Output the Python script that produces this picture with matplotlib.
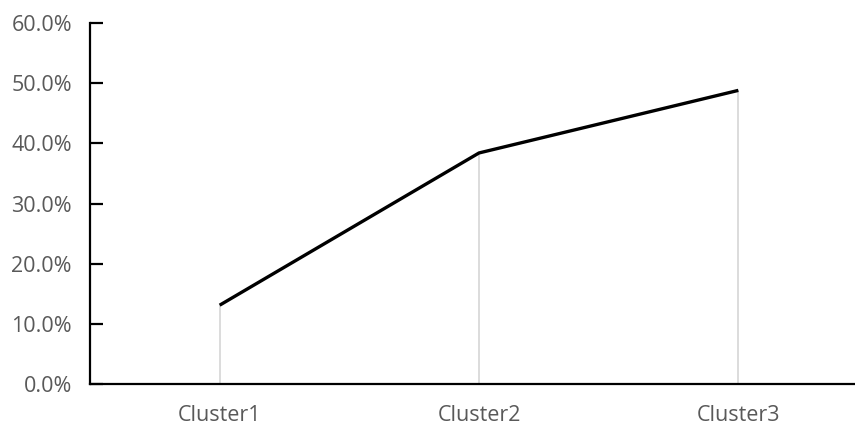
import numpy as np
import matplotlib.pyplot as plt
from matplotlib.ticker import PercentFormatter

categories = ["Cluster1", "Cluster2", "Cluster3"]
values = [0.131, 0.384, 0.488]
y_ticks = [0.0, 0.1, 0.2, 0.3, 0.4, 0.5, 0.6]

plt.rcParams["font.family"] = ["Open Sans", "DejaVu Sans"]

fig = plt.figure(figsize=(8.55, 4.25), dpi=100)
# right edge runs past the canvas on purpose
ax = fig.add_axes([90 / 855, 41 / 425, 778 / 855, 361 / 425])

x = np.arange(len(categories))

# drop lines from each point down to the axis
ax.vlines(x, 0, values, color="#d9d9d9", linewidth=1.3, zorder=1)
ax.plot(x, values, color="black", linewidth=2.4, solid_capstyle="butt", zorder=2)

ax.set_xlim(-0.5, len(categories) - 0.5)
ax.set_ylim(0, 0.6)
ax.set_yticks(y_ticks)
ax.yaxis.set_major_formatter(PercentFormatter(1.0, decimals=1))
ax.set_xticks(x)
ax.set_xticklabels(categories)

for side in ["top", "right"]:
    ax.spines[side].set_visible(False)
for side in ["left", "bottom"]:
    ax.spines[side].set_linewidth(1.6)
    ax.spines[side].set_color("black")

ax.tick_params(axis="y", direction="in", length=9, width=1.6, pad=13,
               labelsize=15.5, labelcolor="#595959")
ax.tick_params(axis="x", length=0, pad=15, labelsize=15.5, labelcolor="#595959")

fig.savefig("out.png", dpi=100)
plt.close(fig)
